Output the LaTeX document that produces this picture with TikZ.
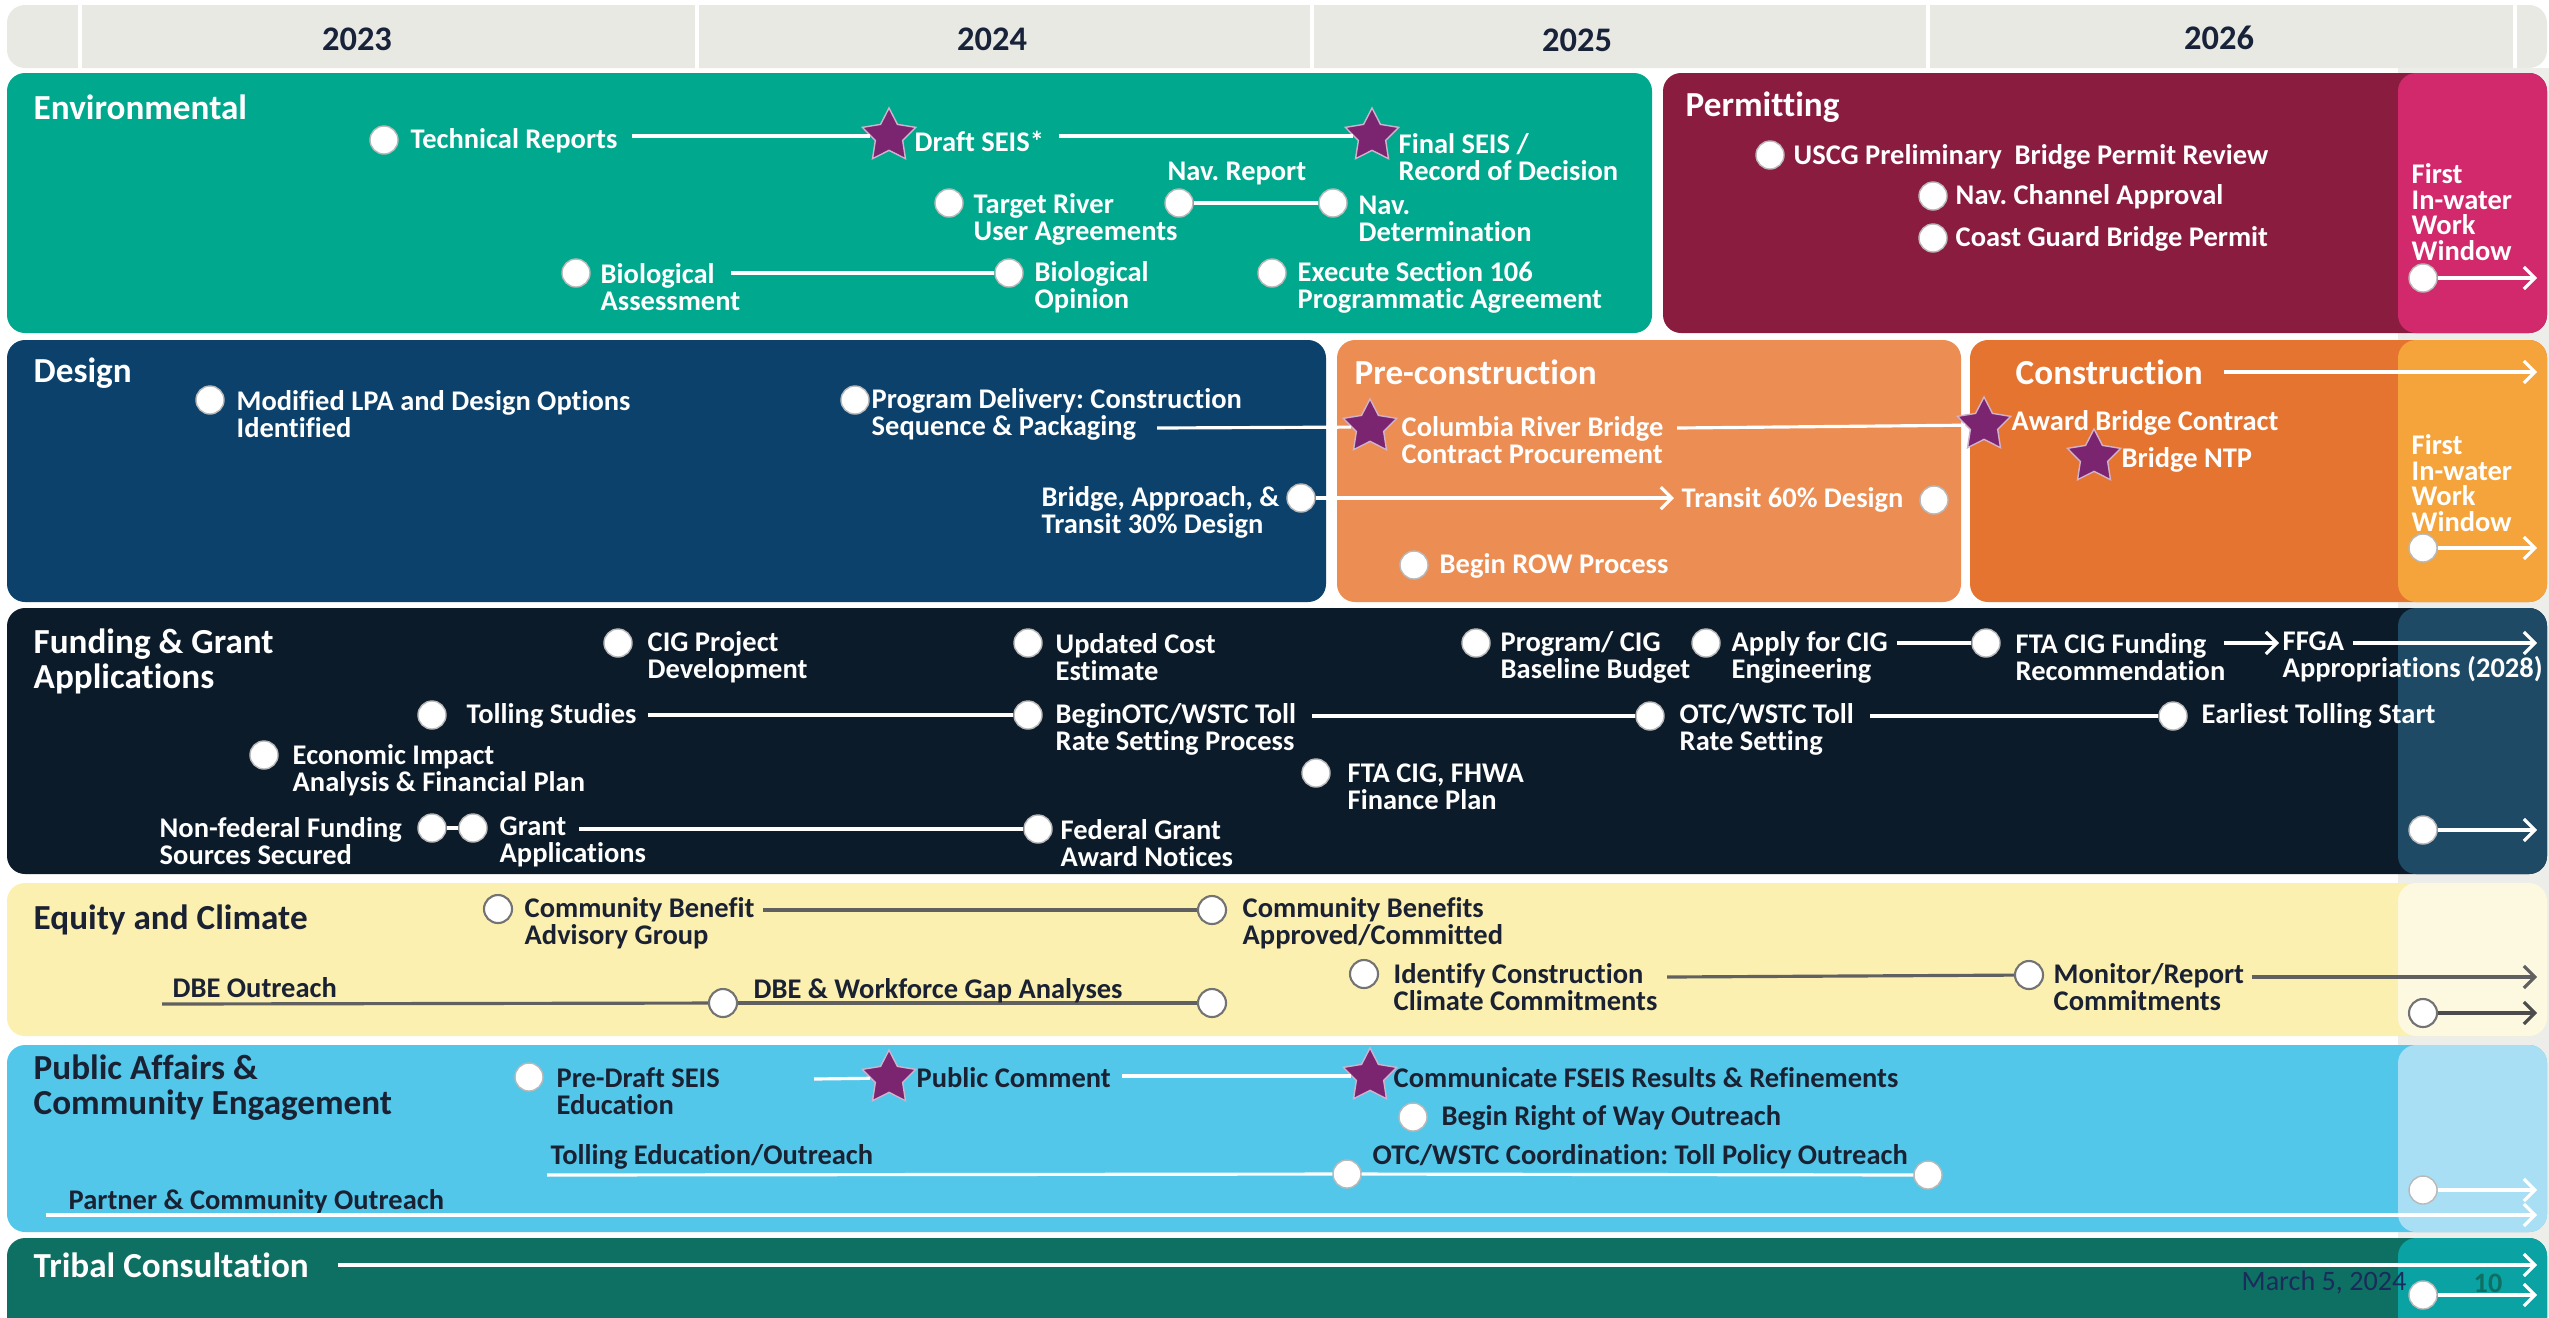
\documentclass[tikz,border=0pt]{standalone}
\usepackage{fontspec}
\setmainfont{Carlito}[Ligatures={NoCommon}]
\usetikzlibrary{shapes.geometric,arrows.meta}
\definecolor{hdr}{HTML}{E9E9E4}
\definecolor{colgray}{HTML}{EDEDEA}
\definecolor{yeartxt}{HTML}{18233A}
\definecolor{envc}{HTML}{00A88E}
\definecolor{permc}{HTML}{8A1C40}
\definecolor{permov}{HTML}{D1296B}
\definecolor{desc}{HTML}{0B416B}
\definecolor{prec}{HTML}{EC8D53}
\definecolor{conc}{HTML}{E57430}
\definecolor{conov}{HTML}{F5A33B}
\definecolor{func}{HTML}{0C1B29}
\definecolor{funov}{HTML}{1E4A66}
\definecolor{equc}{HTML}{FBF0B0}
\definecolor{equov}{HTML}{FDF8E0}
\definecolor{pubc}{HTML}{52C7E9}
\definecolor{pubov}{HTML}{A9DFF4}
\definecolor{tric}{HTML}{0D7063}
\definecolor{triov}{HTML}{0AA2A3}
\definecolor{darktxt}{HTML}{1A2133}
\definecolor{starc}{HTML}{7B246F}
\definecolor{datec}{HTML}{1B2B5B}
\definecolor{pagec}{HTML}{0E6F63}
\newcommand\lblf{\fontsize{8.1}{7.7}\selectfont\bfseries}
\newcommand\ttlf{\fontsize{10}{10}\selectfont\bfseries}
\newcommand\yrf{\fontsize{9.8}{10}\selectfont\bfseries}
\newcommand\winf{\fontsize{8.1}{7.3}\selectfont\bfseries}
\frenchspacing
\begin{document}
\begin{tikzpicture}[x=0.01cm,y=-0.01cm,
  band/.style={rounded corners=0.18cm},
  lbl/.style={font=\lblf, text=white, inner sep=0pt, anchor=west, align=left},
  dlbl/.style={lbl, text=darktxt},
  ttl/.style={lbl, font=\ttlf},
  dttl/.style={ttl, text=darktxt},
  winlbl/.style={lbl, font=\winf},
  yr/.style={font=\yrf, text=yeartxt, inner sep=0pt},
  ms/.style={circle, fill=white, draw=gray!55, line width=0.4pt, minimum size=0.28cm, inner sep=0pt},
  gms/.style={ms, draw=gray!90!black, line width=0.6pt},
  mstar/.style={star, star points=5, star point ratio=1.95, fill=starc, draw=white!65!starc, line width=0.4pt, minimum size=0.56cm, inner sep=0pt},
  conn/.style={draw=white, line width=0.9pt},
  gconn/.style={draw=gray!75!black, line width=0.9pt},
  arr/.style={conn, -{Straight Barb[length=1.1mm,width=2.2mm]}},
  garr/.style={gconn, -{Straight Barb[length=1.1mm,width=2.2mm]}},
  dgarr/.style={draw=black!70, line width=0.9pt, -{Straight Barb[length=1.1mm,width=2.2mm]}}
]
\clip (0,0) rectangle (2549,1317);
\fill[white] (0,0) rectangle (2549,1317);
% header
\fill[hdr, band] (7,5) rectangle (2547,68);
\foreach \xx in {80,697,1312,1928,2515} \draw[white, line width=1pt] (\xx,5) -- (\xx,68);
\node[yr] (y23) at (357,39) {2023};
\node[yr] (y24) at (992,39) {2024};
\node[yr] (y25) at (1577,40) {2025};
\node[yr] (y26) at (2219,38) {2026};
% window column
\fill[colgray] (2398,68) rectangle (2549,1317);
% bands
\fill[envc, band] (7,73) rectangle (1652,333);
\fill[permc, band] (1663,73) rectangle (2547,333);
\fill[permov, band] (2398,73) rectangle (2547,333);
\fill[desc, band] (7,340) rectangle (1326,602);
\fill[prec, band] (1337,340) rectangle (1961,602);
\fill[conc, band] (1970,340) rectangle (2547,602);
\fill[conov, band] (2398,340) rectangle (2547,602);
\fill[func, band] (7,608) rectangle (2547,874);
\fill[funov, band] (2398,608) rectangle (2547,874);
\fill[equc, band] (7,883) rectangle (2547,1036);
\fill[equov, band] (2398,883) rectangle (2547,1036);
\fill[pubc, band] (7,1045) rectangle (2547,1232);
\fill[pubov, band] (2398,1045) rectangle (2547,1232);
\fill[tric, band] (7,1238) rectangle (2547,1360);
\fill[triov, band] (2398,1238) rectangle (2547,1360);

% ===== Environmental
\node[ttl] (envT) at (33,107) {Environmental};
\node[ms] (tr) at (384,140) {};
\node[lbl] (trT) at (410,141) {Technical Reports};
\node[mstar] (s1) at (889,136) {};
\node[lbl] (dsT) at (914,141) {Draft SEIS*};
\node[mstar] (s2) at (1372,136) {};
\node[lbl] (fsT) at (1398,157) {Final SEIS /\\Record of Decision};
\draw[conn, shorten <=4pt] (trT.east |- s1) -- (s1);
\draw[conn, shorten <=4pt] (dsT.east |- s2) -- (s2);
\node[lbl] (nrT) at (1167,173) {Nav. Report};
\node[ms] (nr) at (1179,203) {};
\node[ms] (nd) at (1333,203) {};
\node[lbl] (ndT) at (1358,219) {Nav.\\Determination};
\draw[conn] (nr) -- (nd);
\node[ms] (tg) at (949,203) {};
\node[lbl] (tgT) at (973,219) {Target River\\User Agreements};
\node[ms] (ba) at (576,273) {};
\node[lbl] (baT) at (600,287) {Biological\\Assessment};
\coordinate (baL) at (731,273);
\node[ms] (bo) at (1009,273) {};
\node[lbl] (boT) at (1034,287) {Biological\\Opinion};
\draw[conn] (baL) -- (bo);
\node[ms] (ex) at (1272,273) {};
\node[lbl] (exT) at (1297,287) {Execute Section 106\\Programmatic Agreement};

% ===== Permitting
\node[ttl] (perT) at (1685,107) {Permitting};
\node[ms] (us) at (1770,155) {};
\node[lbl] (usT) at (1793,157) {USCG Preliminary\ \ Bridge Permit Review};
\node[ms] (nc) at (1933,196) {};
\node[lbl] (ncT) at (1955,197) {Nav. Channel Approval};
\node[ms] (cg) at (1933,238) {};
\node[lbl] (cgT) at (1955,239) {Coast Guard Bridge Permit};
\node[winlbl] (w1T) at (2411,212) {First\\In-water\\Work\\Window};
\node[ms] (w1) at (2423,278) {};
\coordinate (w1e) at (2537,278);
\draw[arr] (w1) -- (w1e);

% ===== Design
\node[ttl] (desT) at (33,373) {Design};
\node[ms] (ml) at (210,400) {};
\node[lbl] (mlT) at (236,414) {Modified LPA and Design Options\\Identified};
\node[ms] (pdl) at (855,400) {};
\node[lbl] (pdlT) at (871,414) {Program Delivery: Construction\\Sequence \& Packaging};
\coordinate (pdL) at (1157,428);
\node[mstar] (s3) at (1370,427) {};
\node[lbl] (crT) at (1401,440) {Columbia River Bridge\\Contract Procurement};
\draw[conn] (pdL) -- (s3);
\coordinate (crL) at (1677,428);
\node[mstar] (s4) at (1984,425) {};
\node[lbl] (abT) at (2011,423) {Award Bridge Contract};
\draw[conn] (crL) -- (s4);
\node[mstar] (s5) at (2094,457) {};
\node[lbl] (ntT) at (2121,460) {Bridge NTP};
\node[lbl] (b30T) at (1041,512) {Bridge, Approach, \&\\Transit 30\% Design};
\node[ms] (b30) at (1301,498) {};
\node[lbl] (t60T) at (1681,500) {Transit 60\% Design};
\node[ms] (t60) at (1934,500) {};
\draw[arr, shorten >=2pt] (b30) -- (t60T.west |- b30);
\node[ms] (row) at (1414,565) {};
\node[lbl] (rowT) at (1439,566) {Begin ROW Process};
\node[ttl] (preT) at (1354,372) {Pre-construction};
\node[ttl] (conT) at (2015,372) {Construction};
\coordinate (conE) at (2537,372);
\draw[arr, shorten <=6pt] (conT.east |- conE) -- (conE);
\node[winlbl] (w2T) at (2411,483) {First\\In-water\\Work\\Window};
\node[ms] (w2) at (2423,548) {};
\coordinate (w2e) at (2537,548);
\draw[arr] (w2) -- (w2e);

% ===== Funding
\node[ttl] (funT) at (33,661) {Funding \& Grant\\Applications};
\node[ms] (cig) at (618,643) {};
\node[lbl] (cigT) at (647,657) {CIG Project\\Development};
\node[ms] (uc) at (1028,643) {};
\node[lbl] (ucT) at (1055,657) {Updated Cost\\Estimate};
\node[ms] (ts) at (432,715) {};
\node[lbl] (tsT) at (466,716) {Tolling Studies};
\node[ms] (bo1) at (1028,715) {};
\draw[conn, shorten <=3pt] (tsT.east |- bo1) -- (bo1);
\node[lbl] (bo1T) at (1055,729) {BeginOTC/WSTC Toll\\Rate Setting Process};
\coordinate (bo1L) at (1312,716);
\node[ms] (otc) at (1650,716) {};
\draw[conn] (bo1L) -- (otc);
\node[lbl] (otcT) at (1679,729) {OTC/WSTC Toll\\Rate Setting};
\coordinate (otcL) at (1870,716);
\node[ms] (ets) at (2173,716) {};
\draw[conn] (otcL) -- (ets);
\node[lbl] (etsT) at (2201,716) {Earliest Tolling Start};
\node[ms] (ei) at (264,755) {};
\node[lbl] (eiT) at (292,770) {Economic Impact\\Analysis \& Financial Plan};
\node[lbl] (nfT) at (159,841) {Non-federal Funding\\Sources Secured};
\node[ms] (nf) at (432,828) {};
\node[ms] (ga) at (473,828) {};
\draw[conn] (nf) -- (ga);
\node[lbl] (gaT) at (499,842) {Grant\\Applications};
\coordinate (gaL) at (579,829);
\node[ms] (fg) at (1038,829) {};
\draw[conn] (gaL) -- (fg);
\node[lbl] (fgT) at (1060,843) {Federal Grant\\Award Notices};
\node[ms] (pb) at (1476,643) {};
\node[lbl] (pbT) at (1500,657) {Program/ CIG\\Baseline Budget};
\node[ms] (ap) at (1706,643) {};
\node[lbl] (apT) at (1731,657) {Apply for CIG\\Engineering};
\coordinate (apL) at (1897,643);
\node[ms] (fr) at (1986,643) {};
\draw[conn] (apL) -- (fr);
\node[lbl] (frT) at (2015,657) {FTA CIG Funding\\Recommendation};
\node[lbl] (ffT) at (2282,657) {FFGA\\Appropriations (2028)};
\coordinate (frL) at (2224,643);
\coordinate (ffW) at (2279,643);
\draw[arr] (frL) -- (ffW);
\coordinate (ffL) at (2353,643);
\coordinate (ffE) at (2537,643);
\draw[arr] (ffL) -- (ffE);
\node[ms] (fh) at (1316,773) {};
\node[lbl] (fhT) at (1347,787) {FTA CIG, FHWA\\Finance Plan};
\node[ms] (w3) at (2423,830) {};
\coordinate (w3e) at (2537,830);
\draw[arr] (w3) -- (w3e);

% ===== Equity
\node[dttl] (eqT) at (33,920) {Equity and Climate};
\node[gms] (cb) at (498,909) {};
\node[dlbl] (cbT) at (524,923) {Community Benefit\\Advisory Group};
\coordinate (cbL) at (763,910);
\node[gms] (cba) at (1212,910) {};
\draw[gconn] (cbL) -- (cba);
\node[dlbl] (cbaT) at (1242,923) {Community Benefits\\Approved/Committed};
\node[dlbl] (dboT) at (172,988) {DBE Outreach};
\coordinate (dboL) at (162,1004);
\node[gms] (dbe) at (723,1003) {};
\node[gms] (dbe2) at (1212,1003) {};
\draw[gconn] (dboL) -- (dbe);
\draw[gconn] (dbe) -- (dbe2);
\node[dlbl] (dbeT) at (753,991) {DBE \& Workforce Gap Analyses};
\node[gms] (icc) at (1364,974) {};
\node[dlbl] (iccT) at (1393,987) {Identify Construction\\Climate Commitments};
\coordinate (iccL) at (1667,977);
\node[gms] (mon) at (2029,975) {};
\draw[gconn] (iccL) -- (mon);
\node[dlbl] (monT) at (2053,987) {Monitor/Report\\Commitments};
\coordinate (monL) at (2252,977);
\coordinate (monE) at (2537,977);
\draw[garr] (monL) -- (monE);
\node[gms] (w4) at (2423,1013) {};
\coordinate (w4e) at (2537,1013);
\draw[dgarr] (w4) -- (w4e);

% ===== Public affairs
\node[dttl] (puT) at (33,1088) {Public Affairs \&\\Community Engagement};
\node[ms] (pds) at (529,1077) {};
\node[dlbl] (pdsT) at (556,1091) {Pre-Draft SEIS\\Education};
\coordinate (pcL) at (814,1079);
\node[mstar] (s6) at (889,1078) {};
\draw[conn] (pcL) -- (s6);
\node[dlbl] (pcT) at (916,1078) {Public Comment};
\node[mstar] (s7) at (1370,1076) {};
\draw[conn, shorten <=3pt] (pcT.east |- s7) -- (s7);
\node[dlbl] (cfT) at (1393,1078) {Communicate FSEIS Results \& Refinements};
\node[ms] (rw) at (1413,1117) {};
\node[dlbl] (rwT) at (1441,1118) {Begin Right of Way Outreach};
\node[dlbl] (teT) at (550,1157) {Tolling Education/Outreach};
\coordinate (teL) at (547,1175);
\node[ms] (oc1) at (1347,1174) {};
\node[ms] (oc2) at (1928,1175) {};
\draw[conn] (teL) -- (oc1);
\draw[conn] (oc1) -- (oc2);
\node[dlbl] (ocT) at (1372,1157) {OTC/WSTC Coordination: Toll Policy Outreach};
\node[dlbl] (pcoT) at (68,1202) {Partner \& Community Outreach};
\coordinate (pcoL) at (46,1215);
\coordinate (pcoE) at (2537,1215);
\draw[arr] (pcoL) -- (pcoE);
\node[ms] (w5) at (2423,1190) {};
\coordinate (w5e) at (2537,1190);
\draw[arr] (w5) -- (w5e);

% ===== Tribal
\node[ttl] (trbT) at (33,1265) {Tribal Consultation};
\coordinate (trbE) at (2537,1265);
\draw[arr, shorten <=8pt] (trbT.east |- trbE) -- (trbE);
\node[inner sep=0pt, anchor=east, font=\fontsize{8}{8}\selectfont, text=datec] (date) at (2407,1283) {March 5, 2024};
\node[inner sep=0pt, anchor=west, font=\fontsize{8}{8}\selectfont\bfseries, text=pagec] (page) at (2473,1283) {10};
\node[ms] (w6) at (2423,1295) {};
\coordinate (w6e) at (2537,1295);
\draw[arr] (w6) -- (w6e);
\end{tikzpicture}
\end{document}
